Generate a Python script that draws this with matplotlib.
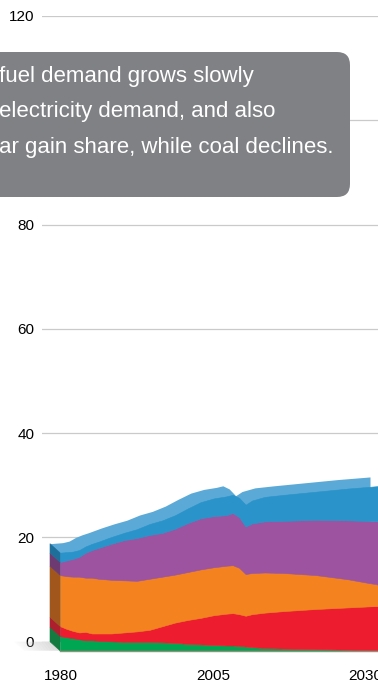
import numpy as np
import matplotlib
matplotlib.use("Agg")
import matplotlib.pyplot as plt
import matplotlib.transforms as mtransforms
from matplotlib.patches import FancyBboxPatch, Polygon

years = [1980, 1981, 1982, 1983, 1984, 1985, 1986, 1988, 1990, 1992, 1994, 1996, 1998,
         2000, 2002, 2004, 2006, 2007, 2008, 2009, 2010, 2012, 2015, 2020, 2025, 2030]
coal = [2.8, 2.6, 2.4, 2.2, 2.0, 2.0, 1.9, 1.8, 1.7, 1.7, 1.7, 1.6, 1.5,
        1.3, 1.2, 1.1, 1.0, 1.0, 0.9, 0.8, 0.7, 0.5, 0.4, 0.3, 0.2, 0.1]
electricity = [1.9, 1.6, 1.4, 1.3, 1.6, 1.3, 1.4, 1.5, 1.8, 2.0, 2.3, 3.1, 3.9,
               4.6, 5.1, 5.7, 6.1, 6.2, 6.1, 5.9, 6.3, 6.8, 7.2, 7.7, 8.1, 8.5]
gas = [9.8, 10.1, 10.4, 10.7, 10.4, 10.7, 10.5, 10.3, 10.0, 9.7, 9.8, 9.5, 9.2,
       9.2, 9.3, 9.2, 9.2, 9.2, 8.9, 8.0, 7.9, 7.7, 7.3, 6.5, 5.4, 4.0]
oil = [2.5, 3.0, 3.4, 3.8, 4.8, 5.3, 5.9, 6.9, 7.7, 8.2, 8.4, 8.4, 8.8,
       9.4, 9.8, 9.8, 9.7, 10.0, 9.7, 9.1, 9.5, 9.8, 10.0, 10.6, 11.3, 12.2]
other = [1.8, 1.6, 1.4, 1.3, 1.2, 1.2, 1.2, 1.3, 1.4, 1.7, 2.1, 2.4, 2.6,
         2.8, 3.1, 3.4, 3.6, 3.5, 3.7, 4.2, 4.4, 4.7, 5.0, 5.4, 6.1, 6.8]

yticks = [0, 20, 40, 60, 80, 100, 120]
ytick_labels = ['0', '20', '40', '60', '80', '', '120']  # 100 sits under the call-out
xtick_labels = ['1980', '2005', '2030']
xtick_pos = [1981.7, 2005.5, 2029.2]   # where the labels sit under the chart

note_lines = ['fuel demand grows slowly',
              'electricity demand, and also',
              'ar gain share, while coal declines.']

layer_colors = ['#00a651', '#ed1c2e', '#f3821f', '#9d539f', '#2a93c9']
side_colors = ['#137a40', '#ad1f2c', '#a1561b', '#6e3a72', '#1f6f9b']
top_color = '#5ba9d7'
grid_color = '#cacaca'
box_color = '#808185'

DX, DY = 10, 9  # depth of the 3-D extrusion, in pixels

W, H = 378, 683
fig = plt.figure(figsize=(W / 100, H / 100), dpi=100)
ax = fig.add_axes([42 / W, 41.3 / H, 336 / W, 625.7 / H])
ax.set_xlim(1978.75, 2031.25)
ax.set_ylim(0, 120)

for s in ax.spines.values():
    s.set_visible(False)
ax.set_yticks(yticks, ytick_labels)
ax.set_xticks(xtick_pos, xtick_labels)
ax.yaxis.grid(True, color=grid_color, lw=0.9)
ax.set_axisbelow(True)
ax.tick_params(axis='y', length=0, pad=5.5, labelsize=11)
ax.tick_params(axis='x', length=0, pad=19.5, labelsize=11)
for lab in ax.get_xticklabels() + ax.get_yticklabels():
    lab.set_fontfamily(['Liberation Sans', 'DejaVu Sans'])

layers = np.array([coal, electricity, gas, oil, other])
cum = np.vstack([np.zeros(len(years)), np.cumsum(layers, axis=0)])

front = mtransforms.offset_copy(ax.transData, fig=fig, x=DX, y=-DY, units='dots')
px = mtransforms.IdentityTransform()

# floor shadow to the left of the block
x0, y0 = ax.transData.transform((years[0], 0))
n = 24
for i in range(n):
    xa = x0 - 36 + i * 36 / n
    xb = xa + 36 / n
    ax.add_patch(Polygon([(xa, y0), (xb, y0), (xb + DX, y0 - DY), (xa + DX, y0 - DY)],
                         closed=True, transform=px, color='#c4c4c4',
                         alpha=0.05 + 0.6 * i / n, lw=0, clip_on=False, zorder=1.5))

# top surface: the back outline of the whole stack
ax.fill_between(years, 0, cum[-1], color=top_color, lw=0, clip_on=False, zorder=2)

# front face
for k in range(len(layers)):
    ax.fill_between(years, cum[k], cum[k + 1], transform=front, facecolor=layer_colors[k],
                    edgecolor=layer_colors[k], lw=0.4, clip_on=False, zorder=3)
ax.plot(years, np.zeros(len(years)), transform=front, color='#9a8d7e', lw=1.0,
        clip_on=False, zorder=3.5)

# left side face
for k in range(len(layers)):
    (bx, blo), (_, bhi) = ax.transData.transform([(years[0], cum[k, 0]), (years[0], cum[k + 1, 0])])
    ax.add_patch(Polygon([(bx, blo), (bx, bhi), (bx + DX, bhi - DY), (bx + DX, blo - DY)],
                         closed=True, transform=px, facecolor=side_colors[k],
                         edgecolor=side_colors[k], lw=0.4, clip_on=False, zorder=4))

# call-out box, cut off at the left edge of the picture
box = FancyBboxPatch((-0.4, 4.86), 3.9, 1.45,
                     boxstyle='round,pad=0,rounding_size=0.13',
                     transform=fig.dpi_scale_trans, facecolor=box_color,
                     edgecolor='none', zorder=5)
fig.add_artist(box)
for i, line in enumerate(note_lines):
    fig.text(-0.01, (H - 81.7 - 35.8 * i) / 100, line, transform=fig.dpi_scale_trans,
             color='white', fontsize=16, va='baseline', ha='left',
             family=['Liberation Sans Narrow', 'Liberation Sans', 'DejaVu Sans'], zorder=6)

fig.savefig('out.png', dpi=100)
